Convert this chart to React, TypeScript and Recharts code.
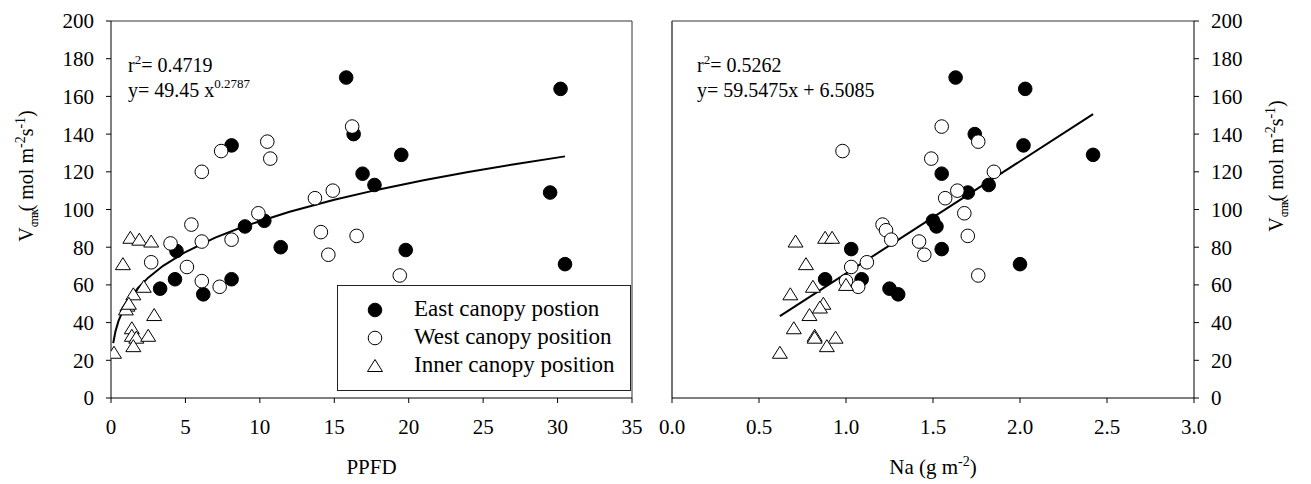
import React from 'react';
import { ScatterChart, Scatter, XAxis, YAxis, ReferenceLine, Legend } from 'recharts';

const FONT = '"Liberation Serif", "Times New Roman", serif';

// ---- Left panel: Vcmax vs PPFD ----
const EAST_PPFD = [15.8, 30.2, 8.1, 16.3, 19.5, 16.9, 17.7, 29.5, 10.3, 9.0, 11.4, 19.8, 4.4, 30.5, 4.3, 8.1, 3.3, 6.2];
const EAST_VC_L = [170, 164, 134, 140, 129, 119, 113, 109, 94, 91, 80, 78.5, 78, 71, 63, 63, 58, 55];
const WEST_PPFD = [16.2, 10.5, 7.4, 10.7, 6.1, 14.9, 13.7, 9.9, 5.4, 4.0, 6.1, 8.1, 14.1, 16.5, 14.6, 2.7, 5.1, 6.1, 7.3, 19.4];
const WEST_VC_L = [144, 136, 131, 127, 120, 110, 106, 98, 92, 82, 83, 84, 88, 86, 76, 72, 69.5, 62, 59, 65];
const INNER_PPFD = [1.3, 1.9, 2.7, 0.8, 2.2, 1.5, 1.1, 1.0, 1.2, 2.9, 1.4, 1.4, 1.7, 2.5, 1.5, 0.2];
const INNER_VC_L = [85, 84, 83, 71, 59, 55, 49, 47, 50, 44, 37, 33, 32, 33, 27.5, 24];

// ---- Right panel: Vcmax vs Na ----
const EAST_NA = [1.63, 2.03, 1.74, 2.02, 2.42, 1.55, 1.82, 1.70, 1.50, 1.52, 1.03, 1.55, 2.00, 0.88, 1.09, 1.25, 1.30];
const EAST_VC_R = [170, 164, 140, 134, 129, 119, 113, 109, 94, 91, 79, 79, 71, 63, 63, 58, 55];
const WEST_NA = [1.55, 1.76, 0.98, 1.49, 1.85, 1.64, 1.57, 1.68, 1.21, 1.23, 1.26, 1.42, 1.70, 1.45, 1.12, 1.03, 1.00, 1.07, 1.76];
const WEST_VC_R = [144, 136, 131, 127, 120, 110, 106, 98, 92, 89, 84, 83, 86, 76, 72, 69.5, 62, 59, 65];
const INNER_NA = [0.71, 0.88, 0.92, 0.77, 0.81, 1.00, 0.68, 0.87, 0.85, 0.79, 0.70, 0.82, 0.82, 0.94, 0.89, 0.62];
const INNER_VC_R = [83, 85, 85, 71, 59, 60, 55, 50, 48, 44, 37, 33, 32, 32, 27.5, 24];

// ---- Fitted curves (from the equations printed on the chart) ----
const POWER_A = 49.45;
const POWER_B = 0.2787;
const POWER_FIT_X = [0.15, 0.3, 0.5, 0.8, 1.2, 1.8, 2.5, 3.5, 5, 7, 9, 12, 15, 18, 21, 24, 27, 30.5];
const LIN_SLOPE = 59.5475;
const LIN_INTERCEPT = 6.5085;
const LIN_FIT_X = [0.62, 2.42];

const PPFD_TICKS = [0, 5, 10, 15, 20, 25, 30, 35];
const NA_TICKS = [0, 0.5, 1.0, 1.5, 2.0, 2.5, 3.0];
const VC_TICKS = [0, 20, 40, 60, 80, 100, 120, 140, 160, 180, 200];

const SERIES_NAMES = ['East canopy postion', 'West canopy position', 'Inner canopy position'];

const zip = (xs: number[], ys: number[]) => xs.map((x, i) => ({ x, y: ys[i] }));
const powerFit = POWER_FIT_X.map((x) => ({ x, y: POWER_A * Math.pow(x, POWER_B) }));
const linFit = LIN_FIT_X.map((x) => ({ x, y: LIN_SLOPE * x + LIN_INTERCEPT }));

const R = 6.8;
const FilledCircle = (p: any) => <circle cx={p.cx} cy={p.cy} r={R} fill="#000" stroke="#000" strokeWidth={1} />;
const OpenCircle = (p: any) => <circle cx={p.cx} cy={p.cy} r={R} fill="#fff" stroke="#000" strokeWidth={1} />;
const Triangle = (p: any) => (
  <path
    d={`M${p.cx},${p.cy - 6.5} L${p.cx + 7.5},${p.cy + 5.5} L${p.cx - 7.5},${p.cy + 5.5} Z`}
    fill="#fff"
    stroke="#000"
    strokeWidth={1}
  />
);
const NoShape = () => <g />;

const tickStyle = { fill: '#000', fontSize: 21, fontFamily: FONT };

const LegendBox = () => {
  const markers = [
    <circle cx={10} cy={10} r={R} fill="#000" stroke="#000" />,
    <circle cx={10} cy={10} r={R} fill="#fff" stroke="#000" />,
    <path d="M10,3.5 L17.5,15.5 L2.5,15.5 Z" fill="#fff" stroke="#000" />,
  ];
  return (
    <div
      style={{
        position: 'relative',
        width: 294,
        height: 106,
        border: '1px solid #222',
        boxSizing: 'border-box',
        background: '#fff',
        fontFamily: FONT,
        fontSize: 23,
        color: '#000',
      }}
    >
      {SERIES_NAMES.map((name, i) => (
        <React.Fragment key={name}>
          <svg width={20} height={20} style={{ position: 'absolute', left: 27, top: 14 + i * 28 }}>
            {markers[i]}
          </svg>
          <div style={{ position: 'absolute', left: 76, top: 9 + i * 28, lineHeight: '28px', whiteSpace: 'nowrap' }}>
            {name}
          </div>
        </React.Fragment>
      ))}
    </div>
  );
};

const axisCommon = {
  tickSize: 5,
  tick: tickStyle,
  axisLine: { stroke: '#000' },
  tickLine: { stroke: '#000' },
};

const TitleV = ({ tx, ty }: { tx: number; ty: number }) => (
  <text transform={`translate(${tx},${ty}) rotate(-90)`} fontSize={20} textAnchor="middle">
    V<tspan dy={5} fontSize={12} letterSpacing={-2.5}>cmax</tspan>
    <tspan dy={-5}>(  mol m</tspan>
    <tspan dy={-8} fontSize={14}>-2</tspan>
    <tspan dy={8}>s</tspan>
    <tspan dy={-8} fontSize={14}>-1</tspan>
    <tspan dy={8}>)</tspan>
  </text>
);

export default function App() {
  return (
    <div style={{ position: 'absolute', left: 0, top: 0, width: 1311, height: 484, background: '#fff', fontFamily: FONT }}>
      <div style={{ position: 'absolute', left: 0, top: 0 }}>
        <ScatterChart width={652} height={484} margin={{ top: 21, right: 20, bottom: 56, left: 51 }}>
          <XAxis
            type="number"
            dataKey="x"
            domain={[0, 35]}
            ticks={PPFD_TICKS}
            interval={0}
            allowDataOverflow
            height={30}
            tickMargin={16}
            {...axisCommon}
          />
          <YAxis
            type="number"
            dataKey="y"
            domain={[0, 200]}
            ticks={VC_TICKS}
            interval={0}
            allowDataOverflow
            width={60}
            tickMargin={12}
            {...axisCommon}
          />
          <ReferenceLine y={200} stroke="#333" strokeWidth={1} />
          <ReferenceLine x={35} stroke="#333" strokeWidth={1} />
          <Scatter
            data={powerFit}
            line={{ stroke: '#000', strokeWidth: 2 }}
            lineType="joint"
            shape={NoShape}
            isAnimationActive={false}
            legendType="none"
          />
          <Scatter data={zip(EAST_PPFD, EAST_VC_L)} shape={FilledCircle} isAnimationActive={false} />
          <Scatter data={zip(WEST_PPFD, WEST_VC_L)} shape={OpenCircle} isAnimationActive={false} />
          <Scatter data={zip(INNER_PPFD, INNER_VC_L)} shape={Triangle} isAnimationActive={false} />
          <Legend
            layout="vertical"
            align="center"
            verticalAlign="middle"
            wrapperStyle={{ left: 337, top: 285, width: 294, height: 106 }}
            content={LegendBox}
          />
        </ScatterChart>
      </div>

      <div style={{ position: 'absolute', left: 652, top: 0 }}>
        <ScatterChart width={659} height={484} margin={{ top: 21, right: 57, bottom: 56, left: 20 }}>
          <XAxis
            type="number"
            dataKey="x"
            domain={[0, 3]}
            ticks={NA_TICKS}
            interval={0}
            allowDataOverflow
            height={30}
            tickMargin={16}
            tickFormatter={(v: number) => v.toFixed(1)}
            {...axisCommon}
          />
          <YAxis
            type="number"
            dataKey="y"
            orientation="right"
            domain={[0, 200]}
            ticks={VC_TICKS}
            interval={0}
            allowDataOverflow
            width={60}
            tickMargin={12}
            {...axisCommon}
          />
          <ReferenceLine y={200} stroke="#333" strokeWidth={1} />
          <ReferenceLine x={0} stroke="#444" strokeWidth={1.5} />
          <Scatter
            data={linFit}
            line={{ stroke: '#000', strokeWidth: 2 }}
            lineType="joint"
            shape={NoShape}
            isAnimationActive={false}
            legendType="none"
          />
          <Scatter data={zip(EAST_NA, EAST_VC_R)} shape={FilledCircle} isAnimationActive={false} />
          <Scatter data={zip(WEST_NA, WEST_VC_R)} shape={OpenCircle} isAnimationActive={false} />
          <Scatter data={zip(INNER_NA, INNER_VC_R)} shape={Triangle} isAnimationActive={false} />
        </ScatterChart>
      </div>

      <svg
        width={1311}
        height={484}
        style={{ position: 'absolute', left: 0, top: 0, pointerEvents: 'none' }}
        fontFamily={FONT}
        fill="#000"
      >
        <text x={128} y={72} fontSize={20}>
          r<tspan dy={-8} fontSize={13}>2</tspan>
          <tspan dy={8}>= 0.4719</tspan>
        </text>
        <text x={128} y={97} fontSize={20}>
          y= 49.45 x<tspan dy={-9} fontSize={13}>0.2787</tspan>
        </text>
        <text x={697} y={72} fontSize={20}>
          r<tspan dy={-8} fontSize={13}>2</tspan>
          <tspan dy={8}>= 0.5262</tspan>
        </text>
        <text x={697} y={97} fontSize={20}>
          y= 59.5475x + 6.5085
        </text>

        <text x={371.5} y={474} fontSize={21} textAnchor="middle">PPFD</text>
        <text x={933} y={474} fontSize={21} textAnchor="middle">
          Na (g m<tspan dy={-8} fontSize={14}>-2</tspan>
          <tspan dy={8}>)</tspan>
        </text>

        <TitleV tx={33} ty={176} />
        <TitleV tx={1283} ty={166} />
      </svg>
    </div>
  );
}
